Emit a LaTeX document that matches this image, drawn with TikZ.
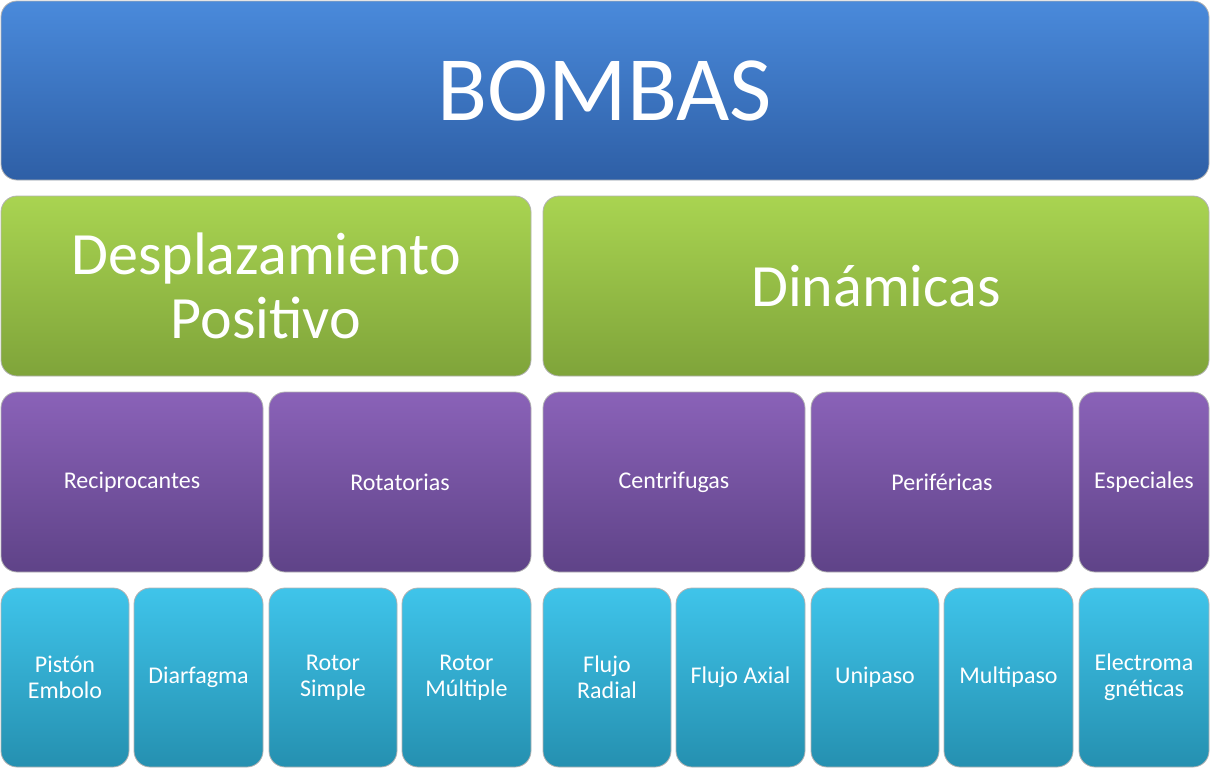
\documentclass[tikz,border=0pt]{standalone}
\usepackage{fontspec}
\setmainfont{Carlito}
\definecolor{bT}{HTML}{4A8ADB}\definecolor{bB}{HTML}{2E5FA6}
\definecolor{gT}{HTML}{A9D451}\definecolor{gB}{HTML}{7FA43A}
\definecolor{pT}{HTML}{8A62B8}\definecolor{pB}{HTML}{5F4388}
\definecolor{cT}{HTML}{3FC4EA}\definecolor{cB}{HTML}{2590B0}
\tikzset{
 cell/.style={rounded corners=12, draw=white!70!black, line width=0.6pt},
 blue/.style={cell, top color=bT, bottom color=bB},
 green/.style={cell, top color=gT, bottom color=gB},
 purple/.style={cell, top color=pT, bottom color=pB},
 cyan/.style={cell, top color=cT, bottom color=cB},
 huge/.style={font=\fontsize{69}{74}\selectfont},
 big/.style={font=\fontsize{45}{48}\selectfont},
 small/.style={font=\fontsize{18}{19.5}\selectfont},
}
\newcommand{\cellbox}[8]{% name style x1 y1 x2 y2 fontstyle text
 \path[#2] (#3,#4) rectangle (#5,#6);
 \node[text=white,align=center,#7] (#1) at ({(#3+#5)/2},{(#4+#6)/2}) {#8};}
\begin{document}
\begin{tikzpicture}[x=0.75pt,y=-0.75pt]
\useasboundingbox (0,0) rectangle (1210,768);
\cellbox{bombas}{blue}{1}{1}{1209}{180}{huge}{BOMBAS}
\cellbox{dp}{green}{1}{196}{531}{376}{big}{Desplazamiento\\Positivo}
\cellbox{din}{green}{543}{196}{1209}{376}{big}{Dinámicas}
\cellbox{rec}{purple}{1}{392}{263}{572}{small}{Reciprocantes}
\cellbox{rot}{purple}{269}{392}{531}{572}{small}{Rotatorias}
\cellbox{cen}{purple}{543}{392}{805}{572}{small}{Centrifugas}
\cellbox{per}{purple}{811}{392}{1073}{572}{small}{Periféricas}
\cellbox{esp}{purple}{1079}{392}{1209}{572}{small}{Especiales}
\cellbox{pis}{cyan}{1}{588}{129}{767}{small}{Pistón\\Embolo}
\cellbox{dia}{cyan}{134}{588}{263}{767}{small}{Diarfagma}
\cellbox{rs}{cyan}{269}{588}{397}{767}{small}{Rotor\\Simple}
\cellbox{rm}{cyan}{402}{588}{531}{767}{small}{Rotor\\Múltiple}
\cellbox{fr}{cyan}{543}{588}{671}{767}{small}{Flujo\\Radial}
\cellbox{fa}{cyan}{676}{588}{805}{767}{small}{Flujo Axial}
\cellbox{uni}{cyan}{811}{588}{939}{767}{small}{Unipaso}
\cellbox{mul}{cyan}{944}{588}{1073}{767}{small}{Multipaso}
\cellbox{ele}{cyan}{1079}{588}{1209}{767}{small}{Electroma\\gnéticas}
\end{tikzpicture}
\end{document}
